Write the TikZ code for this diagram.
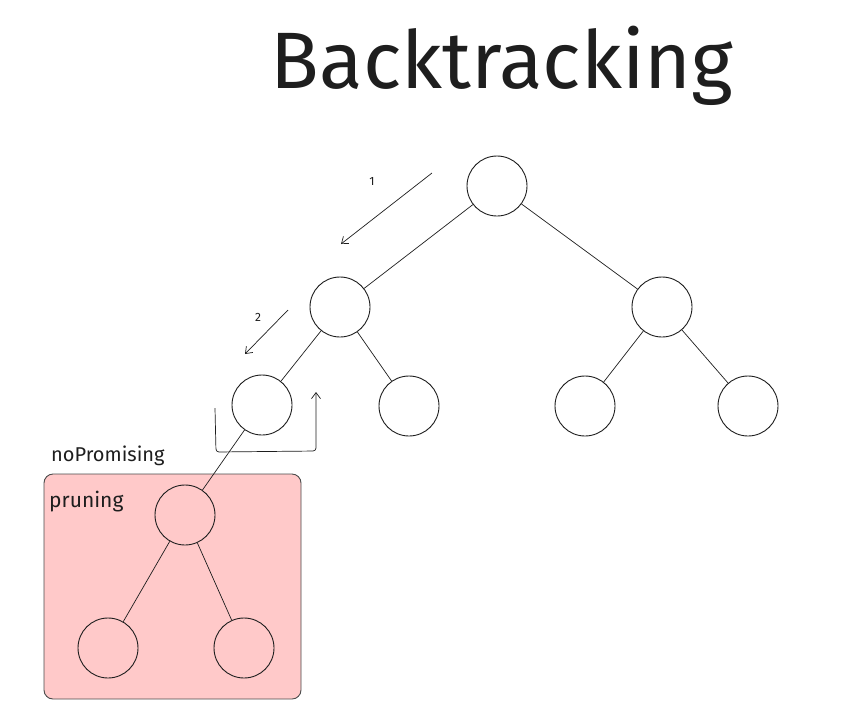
\documentclass[tikz,border=0pt]{standalone}
\usepackage{fontspec}
\setmainfont{Fira Sans}
\usetikzlibrary{arrows.meta}
\definecolor{ink}{HTML}{1E1E1E}
\definecolor{pinkfill}{HTML}{FFC9C9}
\tikzset{
  treenode/.style={circle, draw=ink, line width=0.9pt, minimum size=60pt, inner sep=0pt, fill=white},
  prunednode/.style={circle, draw=ink, line width=0.9pt, minimum size=60pt, inner sep=0pt},
  edge/.style={draw=ink, line width=0.7pt},
  arr/.style={draw=ink, line width=0.7pt, -{Straight Barb[length=6pt,width=9pt]}},
  lbl/.style={text=ink, inner sep=0pt},
}
\begin{document}
\begin{tikzpicture}[x=1pt,y=-1pt]
\useasboundingbox[fill=white] (0,0) rectangle (860,724);
% pruning box
\node[draw=ink!80, line width=0.9pt, fill=pinkfill, rounded corners=9pt, minimum width=257pt, minimum height=225pt, inner sep=0pt] (box) at (172.5,586.5) {};
% title
\node[lbl, anchor=base, font=\fontsize{80}{82}\selectfont] (title) at (502,88) {Backtracking};
% nodes
\node[treenode] (r) at (497,186) {};
\node[treenode] (a) at (340,307) {};
\node[treenode] (b) at (662,307) {};
\node[treenode] (aa) at (262,405) {};
\node[treenode] (ab) at (409,406) {};
\node[treenode] (ba) at (585,406) {};
\node[treenode] (bb) at (748,406) {};
\node[prunednode] (p) at (185,515) {};
\node[prunednode] (pa) at (108,648) {};
\node[prunednode] (pb) at (244,648) {};
% edges
\draw[edge] (r) -- (a);
\draw[edge] (r) -- (b);
\draw[edge] (a) -- (aa);
\draw[edge] (a) -- (ab);
\draw[edge] (b) -- (ba);
\draw[edge] (b) -- (bb);
\draw[edge] (aa) -- (p);
\draw[edge] (p) -- (pa);
\draw[edge] (p) -- (pb);
% step arrows
\coordinate (s1a) at (432,173);
\coordinate (s1b) at (341,244);
\draw[arr] (s1a) -- (s1b);
\node[lbl, font=\fontsize{12}{13}\selectfont] (n1) at (372,181) {1};
\coordinate (s2a) at (288,310);
\coordinate (s2b) at (245,354);
\draw[arr] (s2a) -- (s2b);
\node[lbl, font=\fontsize{12}{13}\selectfont] (n2) at (258,317) {2};
% backtrack U arrow
\coordinate (u1) at (215,408);
\coordinate (u2) at (216,452);
\coordinate (u3) at (316,451);
\coordinate (u4) at (316,392);
\draw[arr, rounded corners=3pt] (u1) -- (u2) -- (u3) -- (u4);
% labels
\node[lbl, anchor=west, font=\fontsize{20}{22}\selectfont] (np) at (51,456) {noPromising};
\node[lbl, anchor=west, font=\fontsize{21}{22}\selectfont] (pr) at (49,502) {pruning};
\end{tikzpicture}
\end{document}
